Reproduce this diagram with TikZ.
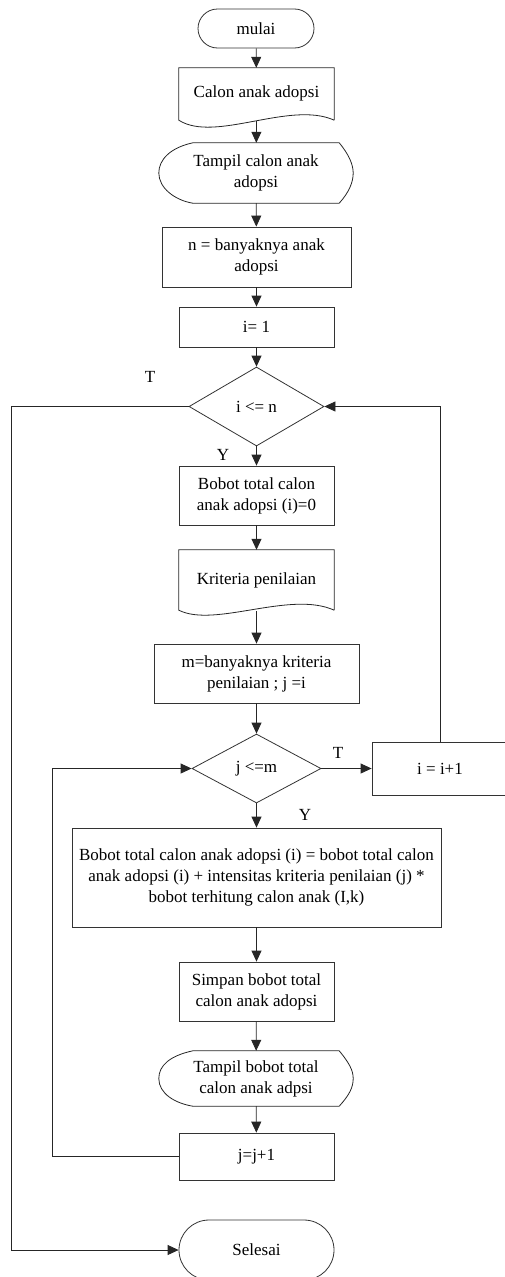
\documentclass[tikz,border=0pt]{standalone}
\usepackage{fontspec}
\setmainfont{Liberation Serif}
\usetikzlibrary{arrows.meta,shapes.geometric,shapes.misc}

\tikzset{
    flow line/.style={
      draw=black!85,
      line width=0.8pt
    },
    flow arrow/.style={
      flow line,
      -{Triangle[length=11pt,width=10pt]}
    },
    flow box/.style={
      draw=black!80,
      line width=0.8pt,
      rectangle,
      align=center,
      inner sep=0pt
    },
    flow term/.style={
      flow box,
      rounded rectangle
    },
    flow cond/.style={
      flow box,
      diamond
    },
    flow text/.style={
      align=center,
      inner sep=0pt
    },
    flow label/.style={
      inner sep=0pt
    }
  }

\begin{document}
\begin{tikzpicture}[x=1pt,y=-1pt,font=\fontsize{17}{21}\selectfont]
      \useasboundingbox (0,0) rectangle (505,1277);

      % simpul alur
      \node[flow term, minimum width=116, minimum height=39] (mulai) at (256,28.5) {mulai};
      \node[flow text, minimum width=155, minimum height=52] (calon) at (256.5,94) {\raisebox{4pt}{Calon anak adopsi}};
      \node[flow text, minimum width=194, minimum height=60] (tampilcalon) at (256,173) {Tampil calon anak\\adopsi};
      \node[flow box, minimum width=189, minimum height=60] (jumlahn) at (256.5,257) {n = banyaknya anak\\adopsi};
      \node[flow box, minimum width=155, minimum height=40] (inisi) at (256.5,327) {i= 1};
      \node[flow cond, minimum width=135, minimum height=79] (cekin) at (256.5,406.5) {i <= n};
      \node[flow box, minimum width=155, minimum height=59] (bobotnol) at (256.5,495.5) {Bobot total calon\\anak adopsi (i)=0};
      \node[flow text, minimum width=155, minimum height=60] (kriteria) at (256.5,580) {\raisebox{3pt}{Kriteria penilaian}};
      \node[flow box, minimum width=205, minimum height=59] (jumlahm) at (256.5,673.5) {m=banyaknya kriteria\\penilaian ; j =i};
      \node[flow cond, minimum width=129, minimum height=69] (cekjm) at (256.5,768.5) {j <=m};
      \node[flow box, minimum width=136, minimum height=53] (tambahi) at (440,768.5) {i = i+1};
      \node[flow box, minimum width=369, minimum height=99] (hitung) at (256.5,877.5) {Bobot total calon anak adopsi (i) = bobot total calon\\anak adopsi (i) + intensitas kriteria penilaian (j) *\\bobot terhitung calon anak (I,k)};
      \node[flow box, minimum width=155, minimum height=59] (simpan) at (256.5,991.5) {Simpan bobot total\\calon anak adopsi};
      \node[flow text, minimum width=194, minimum height=55] (tampilbobot) at (256,1078.5) {Tampil bobot total\\calon anak adpsi};
      \node[flow box, minimum width=155, minimum height=47] (tambahj) at (256.5,1156.5) {j=j+1};
      \node[flow term, minimum width=155, minimum height=60] (selesai) at (256.5,1250) {Selesai};

      % bentuk dokumen
      \draw[flow line] (calon.south east) -- (calon.north east) -- (calon.north west) -- (calon.south west)
        .. controls +(36,23) and +(-44,-20) .. (calon.south east);
      \draw[flow line] (kriteria.south east) -- (kriteria.north east) -- (kriteria.north west) -- (kriteria.south west)
        .. controls +(36,18) and +(-44,-20) .. (kriteria.south east);

      % bentuk tampilan
      \foreach \disp in {tampilcalon,tampilbobot}{
        \draw[flow line] ([xshift=34pt]\disp.north west) -- ([xshift=-14pt]\disp.north east)
          .. controls +(10,12) and +(0,-8) .. (\disp.east)
          .. controls +(0,9) and +(10,-11) .. ([xshift=-14pt]\disp.south east)
          -- ([xshift=34pt]\disp.south west)
          .. controls +(-18,-3) and +(0,15) .. (\disp.west)
          .. controls +(0,-13) and +(-23,5) .. ([xshift=34pt]\disp.north west) -- cycle;
      }

      % label cabang
      \node[flow label] (tinmain) at (150,377) {T};
      \node[flow label] (yinmain) at (223,455) {Y};
      \node[flow label] (tjm) at (338,753) {T};
      \node[flow label] (yjm) at (305,815) {Y};

      % rel samping
      \coordinate (relkiri) at (11,0);
      \coordinate (reldalam) at (52,0);

      % panah alur
      \draw[flow arrow] (mulai) -- (calon);
      \draw[flow arrow] (calon.south) ++(0,1) -- (tampilcalon);
      \draw[flow arrow] (tampilcalon) -- (jumlahn);
      \draw[flow arrow] (jumlahn) -- (inisi);
      \draw[flow arrow] (inisi) -- (cekin);
      \draw[flow arrow] (cekin) -- (bobotnol);
      \draw[flow arrow] (bobotnol) -- (kriteria);
      \draw[flow arrow] (kriteria.south) ++(0,1) -- (jumlahm);
      \draw[flow arrow] (jumlahm) -- (cekjm);
      \draw[flow arrow] (cekjm) -- (hitung);
      \draw[flow arrow] (cekjm) -- (tambahi);
      \draw[flow arrow] (hitung) -- (simpan);
      \draw[flow arrow] (simpan) -- (tampilbobot);
      \draw[flow arrow] (tampilbobot) -- (tambahj);

      % perulangan
      \draw[flow arrow] (tambahi.north) |- (cekin.east);
      \draw[flow arrow] (tambahj.west) -- (tambahj.west -| reldalam) -- (cekjm.west -| reldalam) -- (cekjm.west);
      \draw[flow arrow] (cekin.west) -- (cekin.west -| relkiri) -- (selesai.west -| relkiri) -- (selesai.west);
    \end{tikzpicture}
\end{document}
